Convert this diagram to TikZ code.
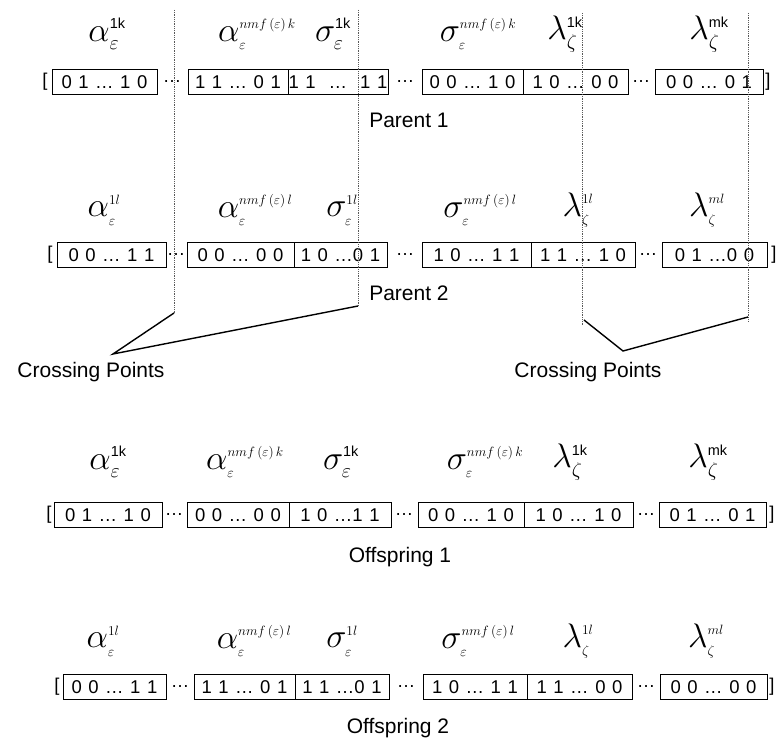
\RequirePackage{fix-cm}
\documentclass[tikz,border=0pt]{standalone}
\usepackage{fontspec}
\setmainfont{Liberation Sans}
\newcommand\supk[1]{\mbox{\fontsize{14.5}{14.5}\selectfont #1}}
\newcommand\supl[1]{\mbox{\fontsize{13.5}{13.5}\selectfont$#1$}}
\newcommand\subbig[1]{\mbox{\fontsize{20}{20}\selectfont$#1$}}
\newcommand\subsm[1]{\mbox{\fontsize{14}{14}\selectfont$#1$}}
\newcommand\nmf[1]{\supl{nmf\,(\varepsilon)\,#1}}
\newcommand\bxfont{\fontsize{18.5}{18.5}\selectfont\spaceskip=6.5pt\relax}
\tikzset{
  bx/.style={draw, rectangle, line width=0.8pt, minimum height=25pt, inner sep=0pt,
    font=\bxfont},
  txt/.style={inner sep=0pt, font=\fontsize{18.5}{18.5}\selectfont},
  lab/.style={inner sep=0pt, font=\fontsize{34}{36}\selectfont},
  captxt/.style={inner sep=0pt, font=\fontsize{21}{22}\selectfont},
  cutline/.style={gray!70!black, densely dotted, line width=0.8pt},
  conn/.style={line width=1.4pt},
}
\newcommand\bx[5]{\node[bx, minimum width={#3-#2}] (#1) at ({(#2+#3)/2},#4) {#5};}
\newcommand\tx[4]{\node[txt] (#1) at (#2,#3) {#4};}
\newcommand\lb[4]{\node[lab] (#1) at (#2,#3) {#4};}
\begin{document}
\begin{tikzpicture}[x=1pt,y=-1pt]
\useasboundingbox (0,0) rectangle (776,741);

% ---------- Parent 1 ----------
\lb{a1}{107}{34}{$\alpha^{\supk{1k}}_{\subbig{\varepsilon}}$}
\lb{a2}{257}{34}{$\alpha^{\nmf{k}}_{\subsm{\varepsilon}}$}
\lb{a3}{333}{34}{$\sigma^{\supk{1k}}_{\subbig{\varepsilon}}$}
\lb{a4}{478}{34}{$\sigma^{\nmf{k}}_{\subsm{\varepsilon}}$}
\lb{a5}{565}{34}{$\lambda^{\supk{1k}}_{\subbig{\zeta}}$}
\lb{a6}{709}{34}{$\lambda^{\supk{mk}}_{\subbig{\zeta}}$}
\tx{p1l}{45}{82}{[}
\bx{p1b1}{52}{157}{82}{0 1 … 1 0}
\tx{p1d1}{172}{82}{…}
\bx{p1b2}{188}{288}{82}{1 1 … 0 1}
\bx{p1b3}{288}{388}{82}{1 1 \ … \ 1 1}
\tx{p1d2}{405}{82}{…}
\bx{p1b4}{422}{523}{82}{0 0 … 1 0}
\bx{p1b5}{523}{628}{82}{1 0 … 0 0}
\tx{p1d3}{641}{82}{…}
\bx{p1b6}{655}{763}{82}{0 0 … 0 1}
\tx{p1r}{768}{82}{]}
\node[captxt] (P1) at (409,120) {Parent 1};

% ---------- Parent 2 ----------
\lb{b1}{104}{210}{$\alpha^{\supl{1l}}_{\subsm{\varepsilon}}$}
\lb{b2}{255}{210}{$\alpha^{\nmf{l}}_{\subsm{\varepsilon}}$}
\lb{b3}{342}{210}{$\sigma^{\supl{1l}}_{\subsm{\varepsilon}}$}
\lb{b4}{480}{210}{$\sigma^{\nmf{l}}_{\subsm{\varepsilon}}$}
\lb{b5}{578}{210}{$\lambda^{\supl{1l}}_{\subsm{\zeta}}$}
\lb{b6}{707}{210}{$\lambda^{\supl{ml}}_{\subsm{\zeta}}$}
\tx{p2l}{50}{255}{[}
\bx{p2b1}{57}{166}{255}{0 0 … 1 1}
\tx{p2d1}{176}{255}{…}
\bx{p2b2}{187}{294}{255}{0 0 … 0 0}
\bx{p2b3}{294}{387}{255}{1 0 …0 1}
\tx{p2d2}{405}{255}{…}
\bx{p2b4}{422}{531}{255}{1 0 … 1 1}
\bx{p2b5}{531}{635}{255}{1 1 … 1 0}
\tx{p2d3}{648}{255}{…}
\bx{p2b6}{662}{767}{255}{0 1 …0 0}
\tx{p2r}{774}{255}{]}
\node[captxt] (P2) at (409,293) {Parent 2};

% ---------- cut lines ----------
\coordinate (c1t) at (174,10);  \coordinate (c1b) at (174,313);
\coordinate (c2t) at (358,10);  \coordinate (c2b) at (358,306);
\coordinate (c3t) at (582,13);  \coordinate (c3b) at (582,325);
\coordinate (c4t) at (748,13);  \coordinate (c4b) at (748,322);
\draw[cutline] (c1t) -- (c1b);
\draw[cutline] (c2t) -- (c2b);
\draw[cutline] (c3t) -- (c3b);
\draw[cutline] (c4t) -- (c4b);

\node[captxt] (CPl) at (91,372) {Crossing Points};
\node[captxt] (CPr) at (588,372) {Crossing Points};
\coordinate (vl) at (113,354);
\coordinate (vr) at (623,351);
\coordinate (e3) at (584,320);
\coordinate (e4) at (748,317);
\draw[conn] (c1b) -- (vl) -- (c2b);
\draw[conn] (e3) -- (vr) -- (e4);

% ---------- Offspring 1 ----------
\lb{o1}{108}{462}{$\alpha^{\supk{1k}}_{\subbig{\varepsilon}}$}
\lb{o2}{245}{462}{$\alpha^{\nmf{k}}_{\subsm{\varepsilon}}$}
\lb{o3}{341}{462}{$\sigma^{\supk{1k}}_{\subbig{\varepsilon}}$}
\lb{o4}{485}{462}{$\sigma^{\nmf{k}}_{\subsm{\varepsilon}}$}
\lb{o5}{570}{462}{$\lambda^{\supk{1k}}_{\subbig{\zeta}}$}
\lb{o6}{708}{462}{$\lambda^{\supk{mk}}_{\subbig{\zeta}}$}
\tx{f1l}{49}{515}{[}
\bx{f1b1}{54}{162}{515}{0 1 … 1 0}
\tx{f1d1}{174}{515}{…}
\bx{f1b2}{187}{289}{515}{0 0 … 0 0}
\bx{f1b3}{289}{391}{515}{1 0 …1 1}
\tx{f1d2}{404}{515}{…}
\bx{f1b4}{418}{524}{515}{0 0 … 1 0}
\bx{f1b5}{524}{633}{515}{1 0 … 1 0}
\tx{f1d3}{646}{515}{…}
\bx{f1b6}{659}{766}{515}{0 1 … 0 1}
\tx{f1r}{772}{515}{]}
\node[captxt] (O1) at (400,557) {Offspring 1};

% ---------- Offspring 2 ----------
\lb{q1}{103}{641}{$\alpha^{\supl{1l}}_{\subsm{\varepsilon}}$}
\lb{q2}{254}{641}{$\alpha^{\nmf{l}}_{\subsm{\varepsilon}}$}
\lb{q3}{342}{641}{$\sigma^{\supl{1l}}_{\subsm{\varepsilon}}$}
\lb{q4}{478}{641}{$\sigma^{\nmf{l}}_{\subsm{\varepsilon}}$}
\lb{q5}{578}{641}{$\lambda^{\supl{1l}}_{\subsm{\zeta}}$}
\lb{q6}{706}{641}{$\lambda^{\supl{ml}}_{\subsm{\zeta}}$}
\tx{f2l}{57}{687}{[}
\bx{f2b1}{63}{166}{687}{0 0 … 1 1}
\tx{f2d1}{180}{687}{…}
\bx{f2b2}{194}{295}{687}{1 1 … 0 1}
\bx{f2b3}{295}{389}{687}{1 1 …0 1}
\tx{f2d2}{406}{687}{…}
\bx{f2b4}{423}{527}{687}{1 0 … 1 1}
\bx{f2b5}{527}{632}{687}{1 1 … 0 0}
\tx{f2d3}{646}{687}{…}
\bx{f2b6}{660}{767}{687}{0 0 … 0 0}
\tx{f2r}{772}{687}{]}
\node[captxt] (O2) at (398,728) {Offspring 2};
\end{tikzpicture}
\end{document}
